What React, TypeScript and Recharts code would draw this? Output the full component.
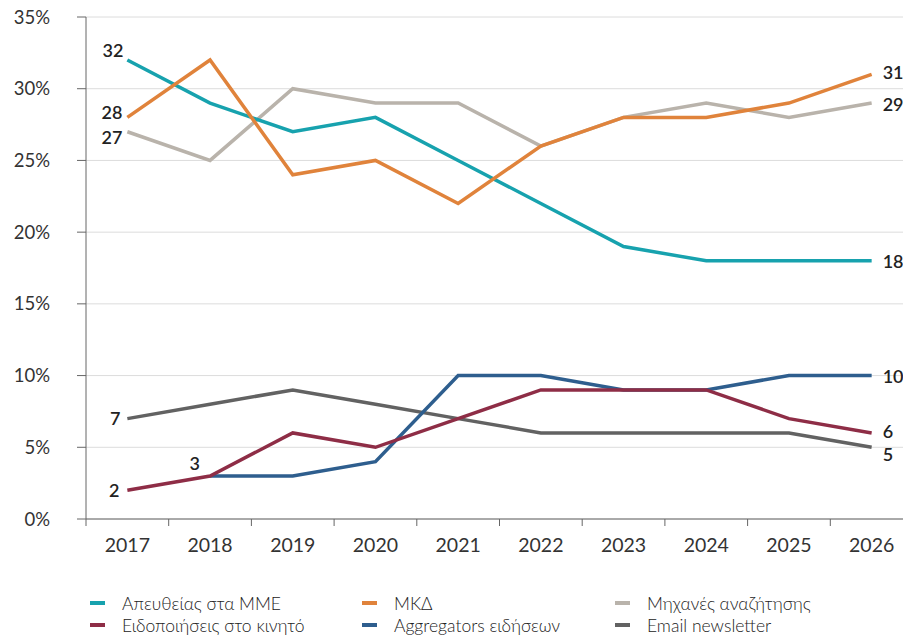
import { LineChart, Line, XAxis, YAxis, CartesianGrid, LabelList } from 'recharts';

const years = [2017, 2018, 2019, 2020, 2021, 2022, 2023, 2024, 2025, 2026];

const direct = [32, 29, 27, 28, 25, 22, 19, 18, 18, 18];
const social = [28, 32, 24, 25, 22, 26, 28, 28, 29, 31];
const search = [27, 25, 30, 29, 29, 26, 28, 29, 28, 29];
const mobileAlerts = [2, 3, 6, 5, 7, 9, 9, 9, 7, 6];
const aggregators = [null, 3, 3, 4, 10, 10, 9, 9, 10, 10];
const newsletter = [7, 8, 9, 8, 7, 6, 6, 6, 6, 5];

const yTicks = [0, 5, 10, 15, 20, 25, 30, 35];

type Series = {
  key: string;
  name: string;
  color: string;
  values: (number | null)[];
  startDy: number;
  startDx: number;
  endDy: number;
};

// draw order (last on top)
const series: Series[] = [
  { key: 'search', name: 'Μηχανές αναζήτησης', color: '#b9b3ab', values: search, startDx: -5, startDy: 5.5, endDy: 0.5 },
  { key: 'direct', name: 'Απευθείας στα ΜΜΕ', color: '#17a2ae', values: direct, startDx: -4, startDy: -10, endDy: 0 },
  { key: 'social', name: 'ΜΚΔ', color: '#e0833b', values: social, startDx: -5, startDy: -5, endDy: -2 },
  { key: 'newsletter', name: 'Email newsletter', color: '#626262', values: newsletter, startDx: -7, startDy: -1, endDy: 7 },
  { key: 'aggregators', name: 'Aggregators ειδήσεων', color: '#2e5e8e', values: aggregators, startDx: -10, startDy: -13, endDy: 0 },
  { key: 'mobile', name: 'Ειδοποιήσεις στο κινητό', color: '#8e2d46', values: mobileAlerts, startDx: -8, startDy: 0, endDy: -2 },
];

const legendOrder = ['direct', 'social', 'search', 'mobile', 'aggregators', 'newsletter'];

const data = years.map((year, i) => {
  const row: Record<string, number | null> = { year };
  series.forEach((s) => {
    row[s.key] = s.values[i];
  });
  return row;
});

const FONT = 'Lato, "Open Sans", sans-serif';

const XTick = (props: any) => {
  const { x, y, payload } = props;
  const half = 41.35;
  return (
    <g>
      <line x1={x - half} x2={x - half} y1={y - 8} y2={y - 1} stroke="#666" strokeWidth={1} />
      <text x={x} y={y + 17} textAnchor="middle" dominantBaseline="central" fill="#333" fontSize={19.5} fontWeight={400} fontFamily={FONT}>
        {payload.value}
      </text>
    </g>
  );
};

const makeLabel = (s: Series) => (props: any) => {
  const { x, y, value, index } = props;
  if (value == null) return null;
  const first = s.values.findIndex((v) => v != null);
  const last = s.values.length - 1;
  const common = { dominantBaseline: 'central' as const, fill: '#222', fontSize: 18, fontWeight: 600, fontFamily: FONT };
  if (index === first) {
    return (
      <text x={x + s.startDx} y={y + s.startDy} textAnchor="end" {...common}>
        {value}
      </text>
    );
  }
  if (index === last) {
    return (
      <text x={x + 11} y={y + s.endDy} textAnchor="start" {...common}>
        {value}
      </text>
    );
  }
  return null;
};

const Legend = () => {
  const cols = [90, 362, 615];
  return (
    <div style={{ position: 'absolute', left: 0, top: 592, width: 903, height: 44, fontFamily: FONT, fontSize: 17.5, fontWeight: 300, color: '#222' }}>
      {legendOrder.map((k, i) => {
        const s = series.find((d) => d.key === k)!;
        const col = i % 3;
        const row = Math.floor(i / 3);
        return (
          <div key={k} style={{ position: 'absolute', left: cols[col], top: row * 22, display: 'flex', alignItems: 'center', height: 22, whiteSpace: 'nowrap' }}>
            <span style={{ display: 'inline-block', width: 15, height: 4, background: s.color, marginRight: 17 }} />
            <span>{s.name}</span>
          </div>
        );
      })}
    </div>
  );
};

export default function App() {
  return (
    <div style={{ position: 'absolute', left: 0, top: 0, width: 903, height: 636, overflow: 'hidden', background: '#fff' }}>
      <LineChart width={913} height={560} data={data} margin={{ top: 17, right: 0, bottom: 0, left: 0 }}>
        <CartesianGrid vertical={false} stroke="#dcdcdc" strokeWidth={1} />
        <XAxis
          dataKey="year"
          type="number"
          domain={[2016.5, 2026.5]}
          ticks={years}
          tick={<XTick />}
          tickLine={false}
          axisLine={{ stroke: '#666' }}
          height={41}
          interval={0}
        />
        <YAxis
          domain={[0, 35]}
          ticks={yTicks}
          width={86}
          tickFormatter={(v: number) => `${v}%`}
          tickSize={9}
          tickMargin={27}
          tickLine={{ stroke: '#666' }}
          axisLine={{ stroke: '#666' }}
          tick={{ fill: '#333', fontSize: 18.5, fontWeight: 400, fontFamily: FONT }}
        />
        {series.map((s) => (
          <Line
            key={s.key}
            dataKey={s.key}
            name={s.name}
            stroke={s.color}
            strokeWidth={3.5}
            dot={false}
            activeDot={false}
            isAnimationActive={false}
            strokeLinejoin="miter"
          >
            <LabelList dataKey={s.key} content={makeLabel(s)} />
          </Line>
        ))}
      </LineChart>
      <Legend />
    </div>
  );
}
